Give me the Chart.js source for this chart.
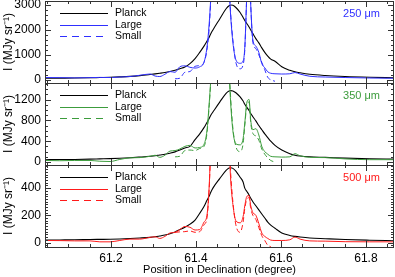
<!DOCTYPE html>
<html>
<head>
<meta charset="utf-8">
<script src="https://cdn.jsdelivr.net/npm/chart.js@4"></script>
<style>
html,body{margin:0;padding:0;background:#fff;}
canvas{display:block;}
</style>
</head>
<body>
<canvas id="c" width="395" height="277"></canvas>
<script>
// ---- data ----
const positions = [61.045,61.080,61.115,61.151,61.174,61.198,61.221,61.245,61.268,61.292,
  61.304,61.315,61.327,61.339,61.351,61.362,61.374,61.386,61.398,61.409,
  61.419,61.426,61.431,61.435,61.440,61.456,61.471,61.478,61.482,61.487,
  61.494,61.504,61.511,61.515,61.520,61.525,61.529,61.534,61.541,61.548,
  61.555,61.562,61.569,61.576,61.586,61.602,61.621,61.633,61.645,61.668,
  61.704,61.751,61.809,61.866];

const planck250 = [60,65,70,80,90,100,115,135,165,210, 235,260,290,330,380,440,510,650,850,1100,
  1350,1550,1700,1850,2000,2440,2850,2970,3000,2990, 2900,2700,2500,2380,2250,2120,2000,1850,1650,1480,
  1280,1100,950,830,740,520,380,320,280,220, 170,130,100,80];
const large250 = [90,85,75,85,95,90,110,130,180,230, 150,130,220,330,300,520,560,500,470,520,
  700,1300,2200,3300,5000,6000,5000,3600,2500,1500, 800,660,750,1300,3500,5000,3000,1600,1350,1100,
  650,480,320,260,240,230,240,290,230,140, 110,90,70,60];
const small250 = [null,null,null,null,null,null,null,null,null,null, null,null,null,null,40,60,300,330,540,570,
  700,1200,2000,3200,5000,6000,5000,3800,2600,1600, 700,440,600,1200,3500,5000,3000,1500,1250,1000,
  700,400,100,0,-60,null,null,null,null,null, null,null,null,null];

const planck350 = [45,48,50,55,60,65,72,82,95,110, 120,135,150,170,195,230,270,300,430,540,
  660,760,830,900,960,1150,1320,1365,1370,1365, 1330,1250,1170,1110,1050,990,930,870,790,700,
  620,540,470,400,320,230,160,130,115,100, 90,75,62,55];
const large350 = [30,25,30,30,15,10,50,80,85,110, 130,90,130,210,220,250,300,320,270,280,
  340,600,1100,1600,2500,3000,2500,1700,1100,600, 350,330,450,750,1150,1200,800,620,640,520,
  300,200,150,110,100,95,100,160,120,90, 85,60,45,45];
const small350 = [null,null,null,null,null,null,null,null,null,null, null,null,null,null,100,110,220,230,220,260,
  300,550,1050,1550,2500,3000,2500,1800,1200,650, 300,200,350,700,1100,1150,750,550,500,420,
  250,150,80,30,0,null,null,null,null,null, null,null,null,null];

const planck500 = [18,19,20,22,23,24,26,29,33,38, 42,48,55,65,78,95,112,135,165,215,
  265,310,340,370,400,470,530,548,550,545, 525,480,445,400,375,350,325,300,270,240,
  210,180,150,128,105,70,52,45,40,33, 28,22,17,13];
const large500 = [15,14,12,12,5,5,15,25,25,38, 42,30,45,70,75,95,118,112,92,95,
  150,200,400,700,900,1000,900,700,450,280, 160,145,190,270,340,345,270,220,200,140,
  70,45,30,18,15,15,20,40,25,12, 10,6,5,5];
const small500 = [null,null,null,null,null,null,null,null,null,null, null,null,null,null,75,78,80,85,75,80,
  130,180,380,680,900,1000,900,750,500,300, 130,75,150,250,320,330,250,200,170,110,
  50,15,-20,-30,null,null,null,null,null,null, null,null,null,null];

const xTickValues = [61.2, 61.4, 61.6, 61.8];
const yTicks250 = [0, 1000, 2000, 3000];
const yTicks350 = [0, 400, 800, 1200];
const yTicks500 = [0, 200, 400];
const bandLabels = ['250 \u03bcm', '350 \u03bcm', '500 \u03bcm'];
const seriesNames = ['Planck', 'Large', 'Small'];
const xTitle = 'Position in Declination (degree)';
const yTitle = 'I (MJy sr\u207b\u00b9)';

// ---- styling / layout ----
const FONT = "'Liberation Sans', Arial, Helvetica, sans-serif";
Chart.defaults.font.family = FONT;
Chart.defaults.color = '#000';

const panels = [
  {id:'y1', min:-130, max:3160, ticks:yTicks250, minor:200, color:'#2f2fff', band:bandLabels[0], series:[planck250, large250, small250]},
  {id:'y2', min:-57,  max:1517, ticks:yTicks350, minor:100, color:'#3c9c3c', band:bandLabels[1], series:[planck350, large350, small350]},
  {id:'y3', min:-33,  max:570,  ticks:yTicks500, minor:20,  color:'#ff1a1a', band:bandLabels[2], series:[planck500, large500, small500]}
];

const datasets = [];
panels.forEach(p => {
  p.series.forEach((arr, s) => {
    datasets.push({
      label: seriesNames[s],
      yAxisID: p.id,
      data: positions.map((x, i) => ({x: x, y: arr[i]})),
      borderColor: s === 0 ? '#000' : p.color,
      borderWidth: s === 0 ? 1.1 : 1,
      borderDash: s === 2 ? [5, 3] : [],
      pointRadius: 0,
      fill: false,
      spanGaps: false,
      cubicInterpolationMode: 'monotone',
      order: s === 0 ? 3 : 1
    });
  });
});

const scales = {
  x: {
    type: 'linear', position: 'bottom', min: 61.045, max: 61.866,
    afterBuildTicks: sc => { sc.ticks = xTickValues.map(v => ({value: v})); },
    afterFit: sc => { sc.height = 30; sc.paddingLeft = 0; sc.paddingRight = 0; },
    grid: {display: false, drawTicks: false},
    border: {display: false},
    ticks: {font: {size: 12}, padding: 4, maxRotation: 0, autoSkip: false, callback: v => Number(v).toFixed(1)},
    title: {display: true, text: xTitle, font: {size: 11}, padding: {top: 0, bottom: 0}}
  }
};
// stacked left axes: the last created is placed at the top
panels.slice().reverse().forEach(p => {
  scales[p.id] = {
    type: 'linear', position: 'left', stack: 'panels', stackWeight: 1,
    min: p.min, max: p.max,
    afterBuildTicks: sc => { sc.ticks = p.ticks.map(v => ({value: v})); },
    afterFit: sc => { sc.width = 45; sc.paddingTop = 0; sc.paddingBottom = 0; },
    grid: {display: false, drawTicks: false},
    border: {display: false},
    ticks: {font: {size: 12}, padding: 4, autoSkip: false, callback: v => String(v)},
    title: {display: true, text: yTitle, font: {size: 12}, padding: {top: 1, bottom: 0}}
  };
});

const panelPlugin = {
  id: 'panels',
  beforeDatasetDraw(chart, args) {
    const ds = chart.data.datasets[args.index];
    const ys = chart.scales[ds.yAxisID];
    const ca = chart.chartArea;
    const ctx = chart.ctx;
    ctx.save();
    ctx.beginPath();
    ctx.rect(ca.left, ys.top, ca.right - ca.left, ys.bottom - ys.top);
    ctx.clip();
  },
  afterDatasetDraw(chart) { chart.ctx.restore(); },
  afterDraw(chart) {
    const ctx = chart.ctx;
    const xs = chart.scales.x;
    const ca = chart.chartArea;
    ctx.save();
    panels.forEach((p, pi) => {
      const ys = chart.scales[p.id];
      const top = ys.top, bot = ys.bottom, L = ca.left, R = ca.right;
      // frame
      ctx.strokeStyle = '#333';
      ctx.lineWidth = 1;
      ctx.setLineDash([]);
      ctx.strokeRect(Math.round(L) + 0.5, Math.round(top) + 0.5, Math.round(R - L) - 1, Math.round(bot - top));
      // x ticks
      ctx.beginPath();
      for (let k = 0; k <= 20; k++) {
        const v = 61.05 + k * 0.05;
        if (v > xs.max) break;
        const px = Math.round(xs.getPixelForValue(v)) + 0.5;
        const major = xTickValues.some(t => Math.abs(t - v) < 1e-6);
        const len = major ? 6 : 3;
        ctx.moveTo(px, bot); ctx.lineTo(px, bot - len);
        ctx.moveTo(px, top); ctx.lineTo(px, top + len);
      }
      // y ticks
      const major = p.ticks[1] - p.ticks[0];
      for (let v = Math.ceil(p.min / p.minor) * p.minor; v <= p.max; v += p.minor) {
        const py = Math.round(ys.getPixelForValue(v)) + 0.5;
        const len = (Math.abs(v % major) < 1e-6) ? 6 : 3;
        ctx.moveTo(L, py); ctx.lineTo(L + len, py);
        ctx.moveTo(R, py); ctx.lineTo(R - len, py);
      }
      ctx.stroke();
      // legend
      const lx0 = L + 15, lx1 = L + 63, tx = L + 70;
      const offs = [12, 23.5, 35];
      ctx.font = '10.5px ' + FONT;
      ctx.textBaseline = 'middle';
      ctx.textAlign = 'left';
      for (let s = 0; s < 3; s++) {
        const ds = chart.data.datasets[pi * 3 + s];
        const y = Math.round(top + offs[s]) + 0.5;
        ctx.strokeStyle = ds.borderColor;
        ctx.lineWidth = ds.borderWidth;
        ctx.setLineDash(s === 2 ? [7, 5] : []);
        ctx.beginPath(); ctx.moveTo(lx0, y); ctx.lineTo(lx1, y); ctx.stroke();
        ctx.fillStyle = '#000';
        ctx.fillText(ds.label, tx, y);
      }
      ctx.setLineDash([]);
      // band label
      ctx.fillStyle = p.color;
      ctx.textAlign = 'right';
      ctx.font = '11px ' + FONT;
      ctx.fillText(p.band, R - 14, top + 13);
    });
    ctx.restore();
  }
};

new Chart(document.getElementById('c'), {
  type: 'line',
  data: {datasets: datasets},
  options: {
    responsive: false,
    devicePixelRatio: 1,
    animation: false,
    layout: {padding: {top: 1, right: 1, left: 0, bottom: 0}},
    plugins: {legend: {display: false}, tooltip: {enabled: false}},
    scales: scales
  },
  plugins: [panelPlugin]
});
</script>
</body>
</html>
